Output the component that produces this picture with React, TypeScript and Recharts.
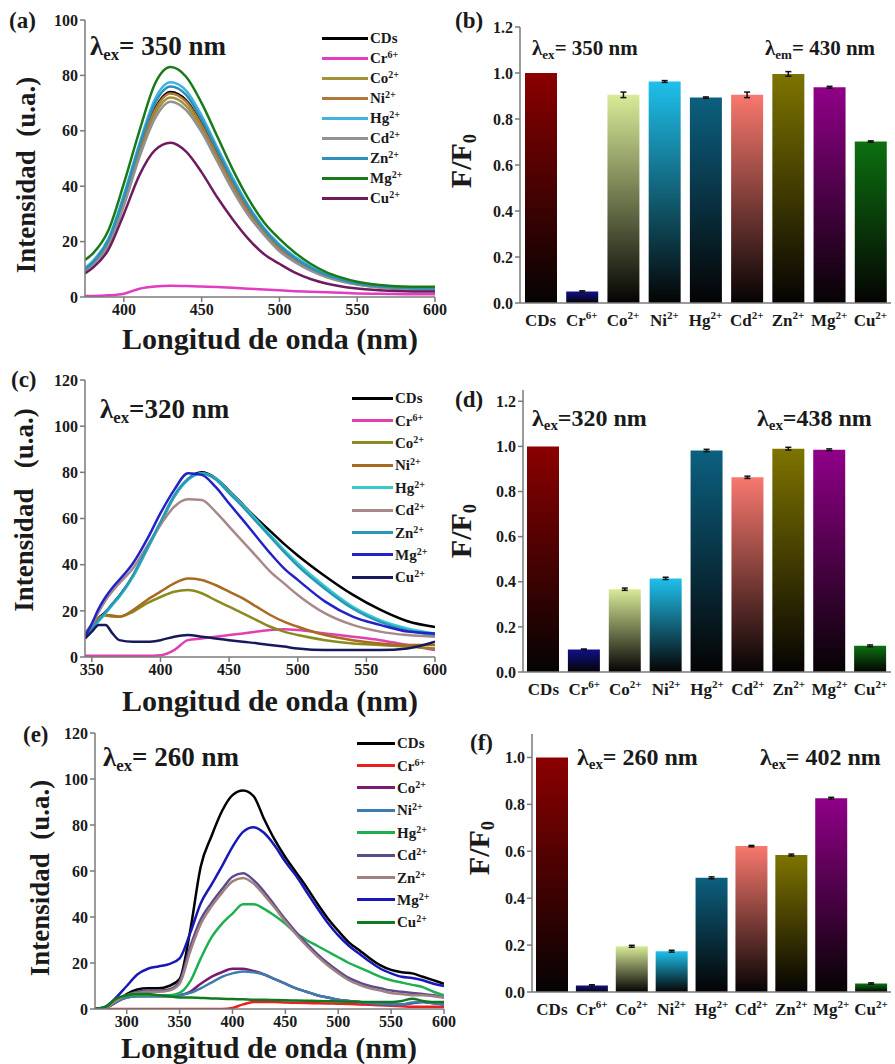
import React from "react";
import {
  LineChart,
  Line,
  BarChart,
  Bar,
  Cell,
  ErrorBar,
  XAxis,
  YAxis,
  Legend,
} from "recharts";

// ---------------------------------------------------------------------------
// shared categories
// ---------------------------------------------------------------------------
const ION_KEYS = ["CDs", "Cr6+", "Co2+", "Ni2+", "Hg2+", "Cd2+", "Zn2+", "Mg2+", "Cu2+"];

// ---------------------------------------------------------------------------
// (a) λex = 350 nm emission spectra
// ---------------------------------------------------------------------------
const WL_A = [375, 380, 390, 400, 410, 420, 430, 440, 450, 460, 470, 480, 490, 500, 510, 520, 530, 540, 550, 560, 570, 580, 590, 600];
const A_CDS = [9.5, 12, 20, 35, 53, 68, 74, 71, 62.5, 51.5, 41, 31.5, 23.5, 18, 13.5, 10.3, 7.8, 6, 4.8, 4, 3.5, 3.2, 3, 3];
const A_CR = [0.4, 0.4, 0.6, 1.2, 3, 3.8, 4.1, 4, 3.8, 3.6, 3.3, 3, 2.7, 2.4, 2.1, 1.9, 1.7, 1.5, 1.3, 1.2, 1.1, 1, 1, 1];
const A_CO = [9.5, 12, 19, 34, 51.5, 66, 72, 69, 60.5, 50, 39.5, 30.5, 23, 17, 13, 9.8, 7.4, 5.8, 4.6, 3.8, 3.3, 3, 2.8, 2.8];
const A_NI = [9.5, 12, 19.5, 34.5, 52.5, 67.5, 73.5, 70.5, 62, 51, 40.5, 31, 23.5, 17.5, 13.3, 10, 7.6, 5.9, 4.7, 3.9, 3.4, 3.1, 2.9, 2.9];
const A_HG = [10.5, 13, 21, 37, 55.5, 71.5, 77.5, 74.5, 65.5, 54, 43, 33, 25, 19, 14.5, 11, 8.2, 6.4, 5, 4.2, 3.7, 3.4, 3.2, 3.2];
const A_CD = [9, 11.5, 18.5, 33, 50.5, 64.5, 70.5, 67.5, 59.5, 49, 38.5, 29.5, 22.5, 16.5, 12.6, 9.5, 7.2, 5.6, 4.5, 3.7, 3.2, 2.9, 2.7, 2.7];
const A_ZN = [10, 12.5, 20.5, 36, 54.5, 70, 76, 73, 64, 53, 42, 32.5, 24.5, 18.5, 14, 10.6, 8, 6.2, 4.9, 4.1, 3.6, 3.3, 3.1, 3.1];
const A_MG = [13.4, 15.7, 24, 41, 60, 77, 83, 79.5, 70, 58, 46, 35.5, 27, 21, 16, 12, 9, 7, 5.5, 4.6, 4.1, 3.8, 3.7, 3.7];
const A_CU = [8.5, 10.5, 17, 30, 44, 53, 55.7, 52.5, 45, 36, 28, 21, 15.5, 12, 8.8, 6.5, 4.9, 3.8, 3.1, 2.6, 2.3, 2.1, 2, 2];
const A_COLORS = ["#000000", "#e23cc0", "#a39238", "#b07838", "#40b4e0", "#929292", "#2c90b8", "#1a7a1a", "#6e1c5e"];
const A_XTICKS = [400, 450, 500, 550, 600];
const A_XMINOR = [375, 425, 475, 525, 575];
const A_YTICKS = [0, 20, 40, 60, 80, 100];
const A_YMINOR = [10, 30, 50, 70, 90];

// ---------------------------------------------------------------------------
// (c) λex = 320 nm emission spectra
// ---------------------------------------------------------------------------
const WL_C = [345, 350, 355, 360, 365, 370, 380, 390, 400, 410, 420, 430, 440, 450, 460, 470, 480, 490, 500, 520, 540, 560, 580, 600];
const C_CDS = [9, 13, 17, 19.5, 23, 26.5, 35, 46.5, 58, 69.5, 77, 80, 77.5, 72, 66, 60, 54.5, 49, 44, 35, 27, 20.5, 15.5, 13];
const C_CR = [0.5, 0.5, 0.5, 0.5, 0.5, 0.5, 0.5, 0.5, 0.8, 3, 7.3, 8, 8.8, 9.5, 10.2, 11, 11.7, 12, 11.7, 10.2, 8.8, 7.3, 5.2, 3];
const C_CO = [8.8, 13, 16.5, 18, 17.5, 17.4, 19.6, 23.2, 26, 28.3, 29, 27.6, 24.6, 21.8, 18.9, 16, 13.1, 11, 9.5, 7.3, 5.9, 5.2, 4.5, 3.7];
const C_NI = [10.2, 14, 17, 18.2, 18, 17.5, 20.3, 24.6, 28.3, 31.9, 34, 33.4, 31.2, 28.3, 25.4, 21.8, 18.2, 15.3, 13.1, 9.5, 7.3, 5.9, 5.2, 5.2];
const C_HG = [8.8, 12, 15.5, 18.9, 22.5, 26, 34.8, 46.4, 57.9, 69.5, 76.7, 79.6, 77.4, 71.6, 65.8, 59.4, 52.8, 46.4, 40.6, 30.5, 21.8, 16, 12.4, 10.2];
const C_CD = [8.8, 14, 19.5, 24.6, 28.5, 31.9, 38.4, 47.8, 57.2, 65.1, 68.3, 68, 63, 56.5, 50, 43.5, 37, 31.9, 26.9, 18.9, 13.9, 11, 9.5, 8.8];
const C_ZN = [9, 12.5, 16, 19.5, 23, 26.5, 35.5, 47, 58.5, 70, 77, 79.5, 77, 71, 65, 58.5, 52, 45.5, 39.5, 29.5, 21, 15.2, 11.5, 9.5];
const C_MG = [8.8, 14.5, 21, 26, 30, 33.4, 40.6, 50.7, 62.3, 72.4, 79.6, 78.9, 73.8, 66.5, 59.4, 52.1, 44.9, 38.4, 33.4, 24, 17.5, 13.9, 11, 10.2];
const C_CU = [8, 11, 13.9, 13.9, 10.2, 7.3, 6.6, 6.6, 7.3, 8.8, 9.5, 8.8, 8, 7.3, 6.6, 6, 5.2, 4.5, 3.7, 3, 3, 3, 3.7, 6.6];
const C_COLORS = ["#000000", "#e040b0", "#8a8a1e", "#a86a20", "#38c8d0", "#a88888", "#2898b8", "#2222c8", "#18185e"];
const C_XTICKS = [350, 400, 450, 500, 550, 600];
const C_XMINOR = [375, 425, 475, 525, 575];
const Y120_TICKS = [0, 20, 40, 60, 80, 100, 120];
const Y120_MINOR = [10, 30, 50, 70, 90, 110];

// ---------------------------------------------------------------------------
// (e) λex = 260 nm emission spectra
// ---------------------------------------------------------------------------
const WL_E = [270, 280, 290, 300, 310, 320, 330, 340, 350, 360, 370, 380, 390, 400, 410, 420, 430, 440, 450, 460, 470, 480, 490, 500, 510, 520, 530, 540, 550, 560, 570, 580, 590, 600];
const E_CDS = [0, 0.5, 3, 6.5, 8.5, 9, 9, 10, 13, 34, 62, 75, 86, 93, 95, 92.5, 82.5, 73.5, 66, 59.5, 53, 46, 39.5, 34, 29, 25.5, 22, 19, 17, 16, 15.5, 14, 12.5, 11];
const E_CR = [0, 0, 0, 0, 0, 0, 0, 0, 0, 0, 0, 0, 0, 0.5, 2, 3, 3, 3, 2.8, 2.7, 2.6, 2.5, 2.4, 2.3, 2.2, 2, 1.8, 1.6, 1.4, 1.2, 1, 1, 1, 1];
const E_CO = [0, 0.5, 3, 5, 5.5, 5.5, 5.5, 5.5, 6, 7.5, 11, 14, 16, 17.5, 17.5, 16.5, 15, 13, 11, 9, 7.5, 6, 5, 4, 3.5, 3, 2.5, 2.2, 2, 2, 2.5, 3, 2.5, 2];
const E_NI = [0, 0.5, 3, 5, 5.5, 5.5, 5.5, 5.5, 6, 7, 9, 11.5, 14, 15.5, 16.3, 16, 15, 13, 11, 9, 7.5, 6, 5, 4, 3.5, 3, 2.5, 2.2, 2, 2, 2.8, 3, 2.5, 2];
const E_HG = [0, 0.5, 3.5, 5.5, 6, 6, 6, 6, 7, 12, 22, 31, 37, 41.5, 45.5, 45.5, 43.5, 40.5, 37, 33, 30, 27.5, 25, 22.5, 20, 18, 16, 14, 12.5, 11.5, 10.5, 9.5, 7.5, 6];
const E_CD = [0, 0.5, 3.5, 6, 7.5, 8, 8, 8.5, 12, 27, 39, 46, 52, 57.5, 59, 56, 51, 45, 39, 33.5, 28.5, 24, 20, 16.5, 13.5, 11.5, 10, 9, 8, 7.5, 7, 6.5, 6, 5];
const E_ZN = [0, 0.5, 3.5, 6, 7, 7.5, 7.5, 8, 11, 25, 37, 44.5, 50.5, 55.5, 57, 54.5, 49.5, 44, 38, 32.5, 27.5, 23, 19, 15.5, 12.5, 10.5, 9, 8, 7, 6.5, 6, 6, 5.5, 5];
const E_MG = [0, 1, 5, 10, 15, 17.5, 18.5, 19.5, 22, 33, 46, 54, 62, 70.5, 77, 79, 76.5, 71, 64, 58, 51, 44, 37.5, 32, 27.5, 24, 20.5, 17.5, 15.5, 14, 13.5, 12.5, 11, 10];
const E_CU = [0, 1, 4.5, 6, 6.5, 6.5, 6, 5.5, 5, 5, 4.8, 4.6, 4.5, 4.3, 4.2, 4, 4, 3.9, 3.8, 3.7, 3.6, 3.5, 3.4, 3.3, 3.2, 3.1, 3, 3, 3, 3.5, 4.5, 3.5, 3, 3];
const E_COLORS = ["#000000", "#e82020", "#7a1a70", "#3c7cb0", "#1eb050", "#5c4c8c", "#a08080", "#1818b8", "#107a20"];
const E_XTICKS = [300, 350, 400, 450, 500, 550, 600];
const E_XMINOR = [275, 325, 375, 425, 475, 525, 575];

// ---------------------------------------------------------------------------
// F/F0 bars
// ---------------------------------------------------------------------------
const B_VALUES = [1.0, 0.05, 0.905, 0.963, 0.893, 0.905, 0.996, 0.938, 0.702];
const B_ERR = [0, 0.003, 0.012, 0.004, 0.003, 0.012, 0.01, 0.004, 0.003];
const D_VALUES = [1.0, 0.1, 0.367, 0.415, 0.982, 0.863, 0.99, 0.985, 0.116];
const D_ERR = [0, 0.002, 0.005, 0.005, 0.005, 0.005, 0.006, 0.004, 0.004];
const F_VALUES = [1.0, 0.028, 0.195, 0.174, 0.487, 0.622, 0.584, 0.826, 0.036];
const F_ERR = [0, 0.003, 0.004, 0.004, 0.004, 0.003, 0.004, 0.004, 0.003];
const BAR_COLORS = ["#8b0000", "#10108c", "#d8eb98", "#1ec0ec", "#0c6080", "#f8786e", "#7e7400", "#900088", "#0c7010"];
const RATIO_TICKS_12 = [0, 0.2, 0.4, 0.6, 0.8, 1.0, 1.2];
const RATIO_TICKS_10 = [0, 0.2, 0.4, 0.6, 0.8, 1.0];
const RATIO_MINOR = [0.1, 0.3, 0.5, 0.7, 0.9, 1.1];

const FONT = '"Liberation Serif", "DejaVu Serif", serif';
const AXIS = "#7a7a7a";
const INK = "#1a1a1a";

function buildRows(wl: number[], series: number[][]) {
  return wl.map((w, i) => {
    const row: Record<string, number> = { w };
    series.forEach((s, k) => {
      row[ION_KEYS[k]] = s[i];
    });
    return row;
  });
}

function splitIon(name: string) {
  const m = name.match(/^([A-Za-z]+)(.*)$/);
  return m ? [m[1], m[2]] : [name, ""];
}

const tickStyle = { fontFamily: FONT, fontWeight: 700, fontSize: 16, fill: INK };
const axisLine = { stroke: AXIS, strokeWidth: 1.5 };

function SpectrumLegend({ colors, lineW, rowH }: { colors: string[]; lineW: number; rowH: number }) {
  return (
    <div>
      {ION_KEYS.map((k, i) => {
        const [base, charge] = splitIon(k);
        return (
          <div key={k} style={{ display: "flex", alignItems: "center", height: rowH }}>
            <span style={{ display: "inline-block", width: lineW, height: 3, background: colors[i] }} />
            <span style={{ fontFamily: FONT, fontWeight: 700, fontSize: 15, color: INK, marginLeft: 2, lineHeight: 1 }}>
              {base}
              {charge && <sup style={{ fontSize: 10, verticalAlign: 5 }}>{charge}</sup>}
            </span>
          </div>
        );
      })}
    </div>
  );
}

type SpectrumProps = {
  left: number;
  top: number;
  width: number;
  height: number;
  marginTop: number;
  marginRight: number;
  yAxisW: number;
  xAxisH: number;
  rows: Record<string, number>[];
  colors: string[];
  xDomain: [number, number];
  xTicks: number[];
  xMinor: number[];
  yDomain: [number, number];
  yTicks: number[];
  yMinor: number[];
  legend: { top: number; left: number; lineW: number; rowH: number };
};

function SpectrumPanel(p: SpectrumProps) {
  return (
    <div style={{ position: "absolute", left: p.left, top: p.top }}>
      <LineChart width={p.width} height={p.height} data={p.rows} margin={{ top: p.marginTop, right: p.marginRight, bottom: 0, left: 0 }}>
        {/* minor ticks sit directly on the plot edge (declared first so they stack innermost) */}
        <XAxis xAxisId="minor" type="number" domain={p.xDomain} ticks={p.xMinor} interval={0} height={0} tick={false} tickSize={3} axisLine={false} tickLine={axisLine} />
        <YAxis yAxisId="minor" type="number" domain={p.yDomain} ticks={p.yMinor} interval={0} width={0} tick={false} tickSize={3} axisLine={false} tickLine={axisLine} />
        <XAxis
          dataKey="w"
          type="number"
          domain={p.xDomain}
          ticks={p.xTicks}
          interval={0}
          height={p.xAxisH}
          tick={tickStyle}
          tickSize={5}
          axisLine={axisLine}
          tickLine={axisLine}
          allowDataOverflow
        />
        <XAxis xAxisId="top" orientation="top" type="number" domain={p.xDomain} height={0} tick={false} tickLine={false} axisLine={axisLine} />
        <YAxis
          type="number"
          domain={p.yDomain}
          ticks={p.yTicks}
          interval={0}
          width={p.yAxisW}
          tick={tickStyle}
          tickSize={5}
          axisLine={axisLine}
          tickLine={axisLine}
          allowDataOverflow
        />
        <YAxis yAxisId="right" orientation="right" type="number" domain={p.yDomain} width={0} tick={false} tickLine={false} axisLine={axisLine} />
        {ION_KEYS.map((k, i) => (
          <Line key={k} type="monotone" dataKey={k} stroke={p.colors[i]} strokeWidth={2.5} dot={false} isAnimationActive={false} />
        ))}
        <Legend
          layout="vertical"
          align="center"
          verticalAlign="middle"
          wrapperStyle={{ top: p.legend.top, left: p.legend.left, width: 110 }}
          content={() => <SpectrumLegend colors={p.colors} lineW={p.legend.lineW} rowH={p.legend.rowH} />}
        />
      </LineChart>
    </div>
  );
}

function IonTick(props: any) {
  const { x, y, payload } = props;
  const [base, charge] = splitIon(String(payload.value));
  return (
    <text x={x} y={y + 15} textAnchor="middle" fontFamily={FONT} fontWeight={700} fontSize={17} fill={INK}>
      <tspan>{base}</tspan>
      {charge ? (
        <tspan dy={-7} fontSize={11}>
          {charge}
        </tspan>
      ) : null}
    </text>
  );
}

type BarProps = {
  id: string;
  left: number;
  top: number;
  height: number;
  marginTop: number;
  yAxisW: number;
  values: number[];
  errs: number[];
  yDomain: [number, number];
  yTicks: number[];
};

function RatioPanel(p: BarProps) {
  const rows = ION_KEYS.map((k, i) => ({ ion: k, value: p.values[i], err: p.errs[i] }));
  const minor = RATIO_MINOR.filter((v) => v < p.yDomain[1]);
  return (
    <div style={{ position: "absolute", left: p.left, top: p.top }}>
      <BarChart width={455} height={p.height} data={rows} margin={{ top: p.marginTop, right: 4, bottom: 0, left: 0 }}>
        <defs>
          {BAR_COLORS.map((c, i) => (
            <linearGradient key={c} id={`${p.id}-g${i}`} x1="0" y1="0" x2="0" y2="1">
              <stop offset="0%" stopColor={c} />
              <stop offset="100%" stopColor="#050303" />
            </linearGradient>
          ))}
        </defs>
        <YAxis yAxisId="minor" type="number" domain={p.yDomain} ticks={minor} interval={0} width={0} tick={false} tickSize={3} axisLine={false} tickLine={axisLine} />
        <XAxis dataKey="ion" interval={0} height={37} tick={<IonTick />} tickLine={false} axisLine={axisLine} />
        <XAxis xAxisId="top" dataKey="ion" orientation="top" height={0} tick={false} tickLine={false} axisLine={axisLine} />
        <YAxis
          type="number"
          domain={p.yDomain}
          ticks={p.yTicks}
          interval={0}
          width={p.yAxisW}
          tick={tickStyle}
          tickFormatter={(v: number) => v.toFixed(1)}
          tickSize={5}
          axisLine={axisLine}
          tickLine={axisLine}
          allowDataOverflow
        />
        <YAxis yAxisId="right" orientation="right" type="number" domain={p.yDomain} width={0} tick={false} tickLine={false} axisLine={axisLine} />
        <Bar dataKey="value" barSize={32} isAnimationActive={false}>
          {rows.map((r, i) => (
            <Cell key={r.ion} fill={`url(#${p.id}-g${i})`} />
          ))}
          <ErrorBar dataKey="err" width={3} stroke="#111" strokeWidth={1.5} direction="y" />
        </Bar>
      </BarChart>
    </div>
  );
}

function Text({ x, y, size, children, rotate, center }: { x: number; y: number; size: number; children: React.ReactNode; rotate?: boolean; center?: boolean }) {
  return (
    <div
      style={{
        position: "absolute",
        left: x,
        top: y,
        fontFamily: FONT,
        fontWeight: 700,
        fontSize: size,
        lineHeight: 1,
        color: INK,
        whiteSpace: "pre",
        transform: rotate ? "translate(-50%, -50%) rotate(-90deg)" : center ? "translate(-50%, -50%)" : undefined,
      }}
    >
      {children}
    </div>
  );
}

function Lambda({ sub, rest }: { sub: string; rest: string }) {
  return (
    <>
      λ<span style={{ fontSize: "0.62em", verticalAlign: "-0.3em" }}>{sub}</span>
      {rest}
    </>
  );
}

function FF0() {
  return (
    <>
      F/F<span style={{ fontSize: "0.62em", verticalAlign: "-0.3em" }}>0</span>
    </>
  );
}

const rowsA = buildRows(WL_A, [A_CDS, A_CR, A_CO, A_NI, A_HG, A_CD, A_ZN, A_MG, A_CU]);
const rowsC = buildRows(WL_C, [C_CDS, C_CR, C_CO, C_NI, C_HG, C_CD, C_ZN, C_MG, C_CU]);
const rowsE = buildRows(WL_E, [E_CDS, E_CR, E_CO, E_NI, E_HG, E_CD, E_ZN, E_MG, E_CU]);

export default function App() {
  return (
    <div style={{ position: "absolute", left: 0, top: 0, width: 895, height: 1064, background: "#fff", overflow: "hidden" }}>
      <RatioPanel id="b" left={440} top={0} height={340} marginTop={27} yAxisW={80} values={B_VALUES} errs={B_ERR} yDomain={[0, 1.2]} yTicks={RATIO_TICKS_12} />
      <RatioPanel id="d" left={440} top={360} height={349} marginTop={30} yAxisW={83} values={D_VALUES} errs={D_ERR} yDomain={[0, 1.25]} yTicks={RATIO_TICKS_12} />
      <RatioPanel id="f" left={440} top={720} height={309} marginTop={14} yAxisW={92} values={F_VALUES} errs={F_ERR} yDomain={[0, 1.1]} yTicks={RATIO_TICKS_10} />

      <SpectrumPanel
        left={0} top={0} width={460} height={340} marginTop={20} marginRight={25} yAxisW={85} xAxisH={43}
        rows={rowsA} colors={A_COLORS}
        xDomain={[375, 600]} xTicks={A_XTICKS} xMinor={A_XMINOR}
        yDomain={[0, 100]} yTicks={A_YTICKS} yMinor={A_YMINOR}
        legend={{ top: 28, left: 322, lineW: 46, rowH: 20 }}
      />
      <SpectrumPanel
        left={0} top={360} width={460} height={340} marginTop={20} marginRight={25} yAxisW={85} xAxisH={43}
        rows={rowsC} colors={C_COLORS}
        xDomain={[345, 600]} xTicks={C_XTICKS} xMinor={C_XMINOR}
        yDomain={[0, 120]} yTicks={Y120_TICKS} yMinor={Y120_MINOR}
        legend={{ top: 27, left: 352, lineW: 41, rowH: 22.4 }}
      />
      <SpectrumPanel
        left={0} top={700} width={464} height={340} marginTop={33} marginRight={20} yAxisW={95} xAxisH={31}
        rows={rowsE} colors={E_COLORS}
        xDomain={[270, 600]} xTicks={E_XTICKS} xMinor={E_XMINOR}
        yDomain={[0, 120]} yTicks={Y120_TICKS} yMinor={Y120_MINOR}
        legend={{ top: 32, left: 357, lineW: 38, rowH: 22.4 }}
      />

      {/* panel letters */}
      <Text x={9} y={9} size={23}>(a)</Text>
      <Text x={455} y={9} size={23}>(b)</Text>
      <Text x={11} y={368} size={23}>(c)</Text>
      <Text x={455} y={388} size={23}>(d)</Text>
      <Text x={23} y={723} size={23}>(e)</Text>
      <Text x={470} y={731} size={23}>(f)</Text>

      {/* excitation / emission annotations */}
      <Text x={90} y={33} size={27}><Lambda sub="ex" rest="= 350 nm" /></Text>
      <Text x={532} y={38} size={21}><Lambda sub="ex" rest="= 350 nm" /></Text>
      <Text x={765} y={38} size={21}><Lambda sub="em" rest="= 430 nm" /></Text>
      <Text x={100} y={396} size={27}><Lambda sub="ex" rest="=320 nm" /></Text>
      <Text x={532} y={406} size={24}><Lambda sub="ex" rest="=320 nm" /></Text>
      <Text x={757} y={406} size={24}><Lambda sub="ex" rest="=438 nm" /></Text>
      <Text x={103} y={744} size={27}><Lambda sub="ex" rest="= 260 nm" /></Text>
      <Text x={577} y={745} size={24}><Lambda sub="ex" rest="= 260 nm" /></Text>
      <Text x={760} y={745} size={24}><Lambda sub="ex" rest="= 402 nm" /></Text>

      {/* axis titles */}
      <Text x={26} y={175} size={27} rotate>Intensidad  (u.a.)</Text>
      <Text x={24} y={510} size={27} rotate>Intensidad   (u.a.)</Text>
      <Text x={40} y={878} size={27} rotate>Intensidad  (u.a.)</Text>
      <Text x={270} y={339} size={30} center>Longitud de onda (nm)</Text>
      <Text x={270} y={701} size={30} center>Longitud de onda (nm)</Text>
      <Text x={269} y={1048} size={30} center>Longitud de onda (nm)</Text>
      <Text x={463} y={161} size={30} rotate><FF0 /></Text>
      <Text x={463} y={531} size={30} rotate><FF0 /></Text>
      <Text x={481} y={848} size={30} rotate><FF0 /></Text>
    </div>
  );
}
